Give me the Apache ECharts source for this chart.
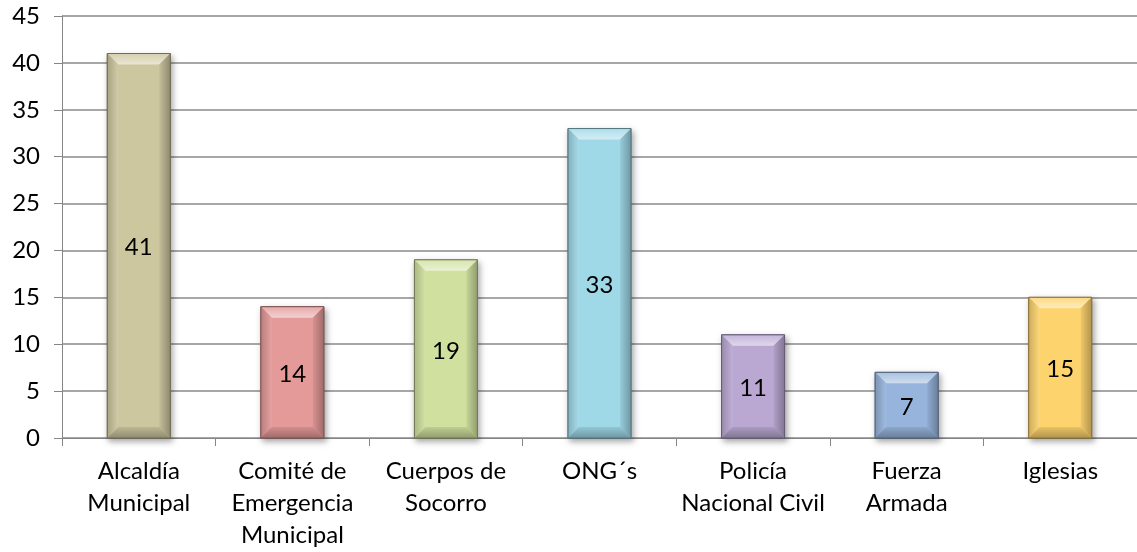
<!DOCTYPE html>
<html>
<head>
<meta charset="utf-8">
<script src="https://cdn.jsdelivr.net/npm/echarts@6/dist/echarts.min.js"></script>
<style>
  html, body { margin: 0; padding: 0; background: #fff; }
  #chart { width: 1137px; height: 552px; }
</style>
</head>
<body>
<div id="chart"></div>
<script>
// Institutions and their counts
const categories = [
  'Alcaldía\nMunicipal',
  'Comité de\nEmergencia\nMunicipal',
  'Cuerpos de\nSocorro',
  'ONG´s',
  'Policía\nNacional Civil',
  'Fuerza\nArmada',
  'Iglesias'
];
const values = [41, 14, 19, 33, 11, 7, 15];
const barColors = ['#cdc7a0', '#e39a99', '#cfe09f', '#9fd8e7', '#baa8d3', '#97b5dc', '#fdd36e'];
const yTicks = { min: 0, max: 45, step: 5 };

const FONT = 'Lato, "Open Sans", sans-serif';
const FONT_SIZE = 24;

function shade(hex, amt) {
  // amt > 0 mixes toward white, amt < 0 toward black
  const n = parseInt(hex.slice(1), 16);
  let r = (n >> 16) & 255, g = (n >> 8) & 255, b = n & 255;
  const t = amt > 0 ? 255 : 0, a = Math.abs(amt);
  r = Math.round(r + (t - r) * a);
  g = Math.round(g + (t - g) * a);
  b = Math.round(b + (t - b) * a);
  return 'rgb(' + r + ',' + g + ',' + b + ')';
}

// Beveled bar drawn on the category/value scales
function renderBevelBar(params, api) {
  const idx = api.value(0);
  const val = api.value(1);
  const color = barColors[idx];
  const base = api.coord([idx, 0]);
  const top = api.coord([idx, val]);
  const w = api.size([1, 0])[0] * 0.41;
  const x0 = base[0] - w / 2, x1 = base[0] + w / 2;
  const y0 = base[1], y1 = top[1];
  const b = Math.min(11, (y0 - y1) / 2);
  const edge = shade(color, -0.45);
  return {
    type: 'group',
    children: [
      {
        type: 'rect',
        shape: { x: x0, y: y1, width: x1 - x0, height: y0 - y1 },
        style: {
          fill: color,
          stroke: edge,
          lineWidth: 1,
          shadowBlur: 6,
          shadowOffsetX: 2,
          shadowOffsetY: 3,
          shadowColor: 'rgba(0,0,0,0.35)'
        }
      },
      {
        type: 'polygon',
        shape: { points: [[x0, y1], [x1, y1], [x1 - b, y1 + b], [x0 + b, y1 + b]] },
        style: {
          fill: new echarts.graphic.LinearGradient(0, 0, 0, 1, [
            { offset: 0, color: shade(color, 0.15) },
            { offset: 1, color: shade(color, 0.55) }
          ])
        }
      },
      {
        type: 'polygon',
        shape: { points: [[x0, y1], [x0 + b, y1 + b], [x0 + b, y0 - b], [x0, y0]] },
        style: {
          fill: new echarts.graphic.LinearGradient(0, 0, 1, 0, [
            { offset: 0, color: shade(color, -0.18) },
            { offset: 1, color: shade(color, 0.08) }
          ])
        }
      },
      {
        type: 'polygon',
        shape: { points: [[x1, y1], [x1, y0], [x1 - b, y0 - b], [x1 - b, y1 + b]] },
        style: {
          fill: new echarts.graphic.LinearGradient(0, 0, 1, 0, [
            { offset: 0, color: shade(color, -0.05) },
            { offset: 1, color: shade(color, -0.3) }
          ])
        }
      },
      {
        type: 'polygon',
        shape: { points: [[x0, y0], [x1, y0], [x1 - b, y0 - b], [x0 + b, y0 - b]] },
        style: {
          fill: new echarts.graphic.LinearGradient(0, 0, 0, 1, [
            { offset: 0, color: shade(color, -0.08) },
            { offset: 1, color: shade(color, -0.3) }
          ])
        }
      },
      {
        type: 'rect',
        shape: { x: x0, y: y1, width: x1 - x0, height: y0 - y1 },
        style: { fill: 'none', stroke: edge, lineWidth: 1 }
      },
      {
        type: 'text',
        style: {
          text: String(val),
          x: base[0],
          y: (y0 + y1) / 2 + 2,
          align: 'center',
          verticalAlign: 'middle',
          fill: '#000',
          font: FONT_SIZE + 'px ' + FONT
        }
      }
    ]
  };
}

const chart = echarts.init(document.getElementById('chart'), null, { renderer: 'canvas' });
chart.setOption({
  animation: false,
  backgroundColor: '#fff',
  grid: { left: 62, right: -4, top: 16, bottom: 114 },
  xAxis: {
    type: 'category',
    data: categories,
    boundaryGap: true,
    axisLine: { show: true, lineStyle: { color: '#868686', width: 1 } },
    axisTick: { show: true, alignWithLabel: false, length: 8, lineStyle: { color: '#868686' } },
    axisLabel: {
      interval: 0,
      margin: 17,
      color: '#000',
      fontFamily: FONT,
      fontSize: FONT_SIZE,
      lineHeight: 32
    }
  },
  yAxis: {
    type: 'value',
    min: yTicks.min,
    max: yTicks.max,
    interval: yTicks.step,
    axisLine: { show: true, lineStyle: { color: '#868686', width: 1 } },
    axisTick: { show: true, length: 8, lineStyle: { color: '#868686' } },
    splitLine: { show: true, lineStyle: { color: '#8a8a8a', width: 1.5 } },
    axisLabel: {
      margin: 22,
      color: '#000',
      fontFamily: FONT,
      fontSize: FONT_SIZE
    }
  },
  series: [{
    type: 'custom',
    renderItem: renderBevelBar,
    data: values.map((v, i) => [i, v]),
    encode: { x: 0, y: 1 },
    z: 3
  }]
});
</script>
</body>
</html>
